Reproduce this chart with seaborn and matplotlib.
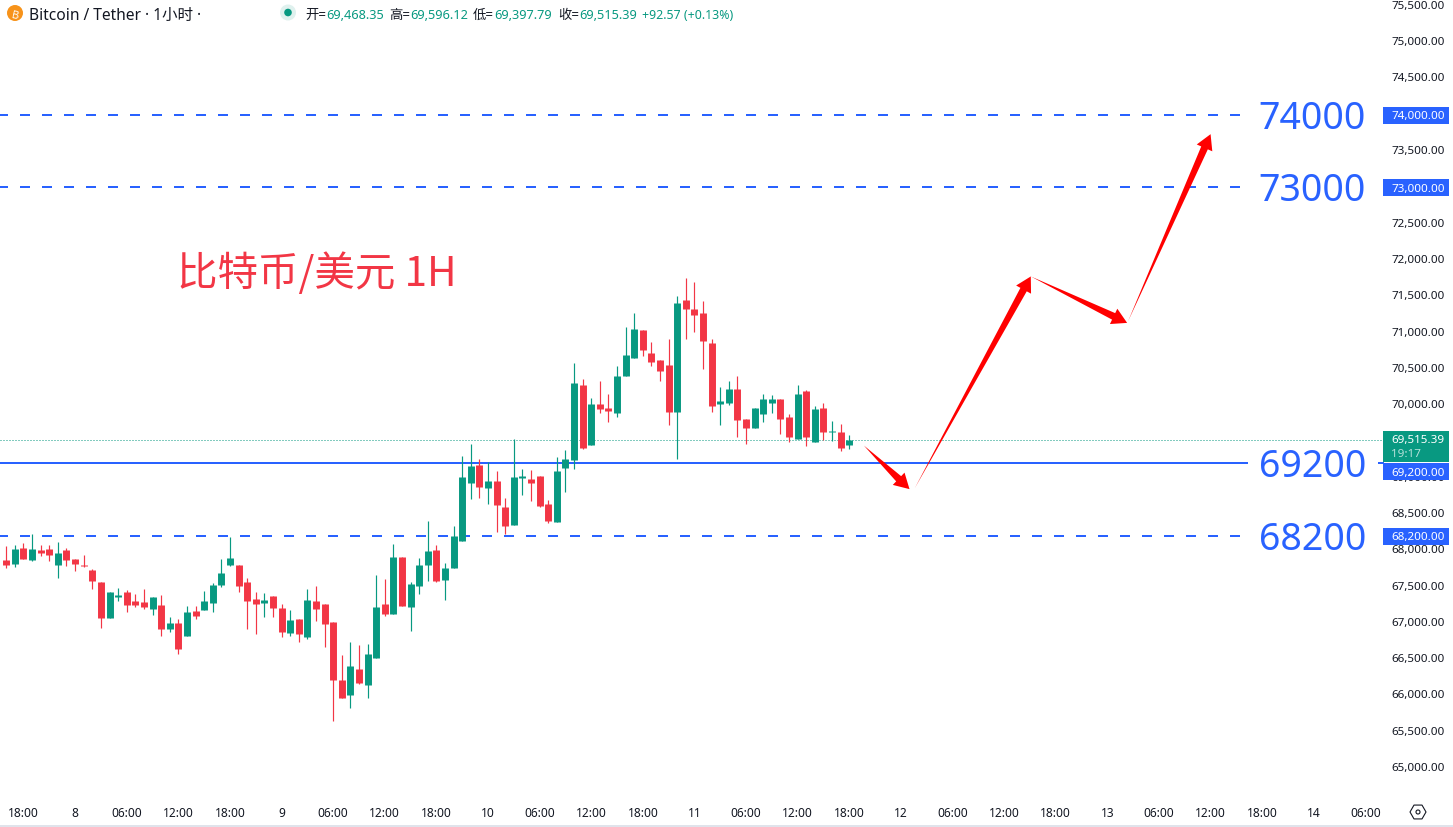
import numpy as np
import pandas as pd
import matplotlib
matplotlib.use('Agg')
import matplotlib.pyplot as plt
from matplotlib.patches import Circle, Polygon, Rectangle, RegularPolygon
from matplotlib.transforms import ScaledTranslation
import seaborn as sns

# Hourly candles
opens = [67700, 67865, 67810, 68030, 67865, 68003, 68017, 67796, 68003, 67879,
         67796, 67727, 67562, 67067, 67356, 67425, 67301, 67287, 67191, 67246,
         66915, 66998, 66819, 67163, 67177, 67273, 67521, 67796, 67796, 67562,
         67328, 67273, 67369, 67204, 66860, 67053, 66805, 67300, 67259, 67011,
         66213, 66007, 66365, 66144, 66516, 67259, 67122, 67906, 67218, 67507,
         67796, 68002, 67590, 67755, 68127, 68925, 69173, 68857, 68953, 68595,
         68347, 68994, 68980, 69022, 68636, 68389, 69132, 69242, 70274, 69448,
         70013, 69958, 69888, 70397, 70645, 71030, 70714, 70617, 70548, 69901,
         71443, 71319, 71264, 70851, 70012, 70026, 70218, 69806, 69682, 69874,
         70026, 70081, 69833, 69530, 70191, 69489, 69957, 69627, 69627, 69448]
highs = [67910, 68060, 68072, 68099, 68223, 68072, 68072, 68113, 68030, 67879,
         67934, 67741, 67562, 67425, 67480, 67452, 67397, 67466, 67356, 67383,
         67081, 67053, 67232, 67232, 67438, 67549, 67879, 68181, 67796, 67617,
         67424, 67411, 67369, 67259, 67177, 67053, 67466, 67507, 67259, 67011,
         66557, 66736, 66695, 66709, 67658, 67603, 68085, 67906, 67562, 67892,
         68402, 68071, 67824, 68333, 69297, 69462, 69256, 69214, 69091, 68719,
         69531, 69118, 69104, 69022, 68691, 69283, 69380, 70577, 70357, 70095,
         70329, 70150, 70536, 71071, 71264, 71030, 70865, 70617, 70906, 71498,
         71746, 71691, 71429, 70906, 70246, 70329, 70397, 69806, 69957, 70150,
         70136, 70081, 69874, 70274, 70205, 69984, 70026, 69778, 69737, 69585]
lows = [67670, 67755, 67769, 67879, 67851, 67920, 67851, 67617, 67783, 67714,
        67769, 67466, 66929, 67067, 67301, 67149, 67218, 67191, 67108, 66819,
        66874, 66571, 66819, 67053, 67177, 67149, 67494, 67782, 67424, 66915,
        66846, 67080, 67080, 66805, 66819, 66736, 66777, 67025, 66667, 65649,
        65965, 65828, 66158, 65965, 66516, 67094, 67122, 67232, 66888, 67397,
        67576, 67562, 67314, 67755, 68127, 68705, 68719, 68636, 68251, 68223,
        68347, 68760, 68678, 68595, 68375, 68389, 68801, 69118, 69393, 69448,
        69889, 69765, 69833, 70397, 70645, 70672, 70535, 70328, 69723, 69255,
        70906, 71003, 70493, 69901, 69723, 69998, 69558, 69461, 69682, 69764,
        69888, 69599, 69489, 69530, 69434, 69489, 69517, 69503, 69365, 69393]
closes = [67880, 67796, 68017, 67879, 68017, 67962, 67934, 67962, 67865, 67810,
          67783, 67576, 67067, 67425, 67383, 67246, 67246, 67218, 67356, 66915,
          66998, 66640, 67149, 67094, 67301, 67521, 67686, 67892, 67507, 67300,
          67259, 67314, 67204, 66874, 67039, 66846, 67314, 67190, 66984, 66213,
          65965, 66406, 66172, 66571, 67218, 67122, 67906, 67232, 67534, 67796,
          67989, 67576, 67755, 68195, 69008, 69159, 68870, 68953, 68623, 68333,
          69008, 69022, 68925, 68609, 68402, 69091, 69256, 70302, 69407, 70013,
          69944, 69916, 70398, 70686, 71044, 70755, 70590, 70466, 69901, 71402,
          71319, 71237, 70879, 69984, 70053, 70218, 69792, 69682, 69957, 70081,
          70081, 69806, 69558, 70150, 69558, 69943, 69627, 69640, 69406, 69517]

# Time axis labels, one every 6 candles starting at candle 3
time_labels = ['18:00', '8', '06:00', '12:00', '18:00', '9', '06:00', '12:00', '18:00',
               '10', '06:00', '12:00', '18:00', '11', '06:00', '12:00', '18:00',
               '12', '06:00', '12:00', '18:00', '13', '06:00', '12:00', '18:00',
               '14', '06:00']
level_dashed = [74000, 73000, 68200]
level_solid = 69200
last_price = 69515.39
price_ticks = list(range(65000, 76000, 500))

# Forecast path drawn on the chart: (start hour, start price, end hour, end price)
forecast_arrows = [(100.7, 69440, 106.0, 68840),
                   (106.6, 68850, 120.1, 71770),
                   (120.1, 71770, 131.3, 71130),
                   (131.4, 71150, 141.0, 73730)]

RED = '#f23645'
GREEN = '#089981'
BLUE = '#2962ff'
INK = '#131722'

sns.set_theme(style='white')
plt.rcParams['font.family'] = ['Noto Sans', 'Noto Sans CJK SC', 'DejaVu Sans']

W, H = 1453, 828
fig = plt.figure(figsize=(W / 100, H / 100), dpi=100, facecolor='white')
ax = fig.add_axes([0, (H - 795) / H, 1384 / W, 795 / H])

df = pd.DataFrame({'hour': np.arange(len(opens)), 'open': opens, 'high': highs,
                   'low': lows, 'close': closes})
df['side'] = np.where(df['close'] >= df['open'], 'up', 'down')
palette = {'up': GREEN, 'down': RED}

wicks = df.melt(id_vars=['hour', 'side'], value_vars=['low', 'high'], value_name='price')
bodies = df.melt(id_vars=['hour', 'side'], value_vars=['open', 'close'], value_name='price')

sns.lineplot(data=wicks, x='hour', y='price', units='hour', hue='side', palette=palette,
             estimator=None, sort=False, legend=False, linewidth=0.85,
             solid_capstyle='butt', ax=ax)
sns.lineplot(data=bodies, x='hour', y='price', units='hour', hue='side', palette=palette,
             estimator=None, sort=False, legend=False, linewidth=5.0,
             solid_capstyle='butt', ax=ax)

for level in level_dashed:
    ax.axhline(level, color=BLUE, linewidth=1.44, linestyle=(1, (5, 6)), zorder=1)
ax.axhline(level_solid, color=BLUE, linewidth=1.44, zorder=1)
ax.axhline(last_price, color=GREEN, linewidth=0.72, linestyle=(0, (1, 2)), zorder=1)

ax.set_xlim(0.27, 161.16)
ax.set_ylim(64640, 75592)
ax.set_xlabel('')
ax.set_ylabel('')
ax.set_xticks(np.arange(len(time_labels)) * 6 + 3)
ax.set_xticklabels(time_labels)
ax.set_yticks(price_ticks)
ax.set_yticklabels([f'{p:,.2f}' for p in price_ticks])
ax.yaxis.tick_right()
ax.tick_params(axis='x', length=0, pad=8.5, labelsize=8.6, labelcolor=INK)
ax.tick_params(axis='y', length=0, pad=5.5, labelsize=8.4, labelcolor=INK)
up_a_bit = ScaledTranslation(0, 1.3 / 72, fig.dpi_scale_trans)
for lab in ax.get_yticklabels():
    lab.set_transform(lab.get_transform() + up_a_bit)
sns.despine(ax=ax, left=True, right=True, top=True, bottom=True)

# Everything below sits on an overlay that works in image pixels
over = fig.add_axes([0, 0, 1, 1], facecolor='none')
over.set_xlim(0, W)
over.set_ylim(H, 0)
over.axis('off')


def to_px(hour, price):
    px, py = ax.transData.transform((hour, price))
    return px, H - py


def big_level(price, tag_shift=0):
    _, py = to_px(0, price)
    over.add_patch(Rectangle((1248, py - 16), 130, 34, color='white', lw=0, zorder=2))
    over.text(1366, py - 1.5, str(price), color=BLUE, fontsize=27, ha='right', va='center_baseline',
              zorder=3)
    over.add_patch(Rectangle((1383, py - 8 + tag_shift), 66, 17, color=BLUE, lw=0, zorder=4))
    over.text(1391, py + tag_shift - 0.5, f'{price:,.2f}', color='white', fontsize=8.4,
              va='center_baseline', zorder=5)


for level in level_dashed:
    big_level(level)
big_level(level_solid, tag_shift=8.5)

# Last price tag, sits just above the solid level tag
over.add_patch(Rectangle((1383, 432), 66, 31, color=GREEN, lw=0, zorder=4))
over.text(1391, 439, f'{last_price:,.2f}', color='white', fontsize=8.4, va='center_baseline', zorder=5)
over.text(1391, 453, '19:17', color='white', alpha=0.7, fontsize=8.4, va='center_baseline', zorder=5)


def draw_arrow(x0, y0, x1, y1, shaft, head_len, head_half):
    start, tip = np.array([x0, y0]), np.array([x1, y1])
    along = (tip - start) / np.hypot(*(tip - start))
    side = np.array([-along[1], along[0]])
    neck = tip - along * head_len
    pts = [start, neck + side * shaft, neck + side * head_half, tip,
           neck - side * head_half, neck - side * shaft]
    over.add_patch(Polygon(pts, closed=True, color='#ff0000', lw=0, zorder=6))


for h0, p0, h1, p1 in forecast_arrows:
    draw_arrow(*to_px(h0, p0), *to_px(h1, p1), 3.6, 15, 8.5)

over.text(177, 269, '比特币/美元 1H', color=RED, fontsize=29.2, va='center_baseline',
          family=['Noto Sans CJK SC', 'DejaVu Sans'])

# Header
over.add_patch(Circle((15, 14), 8, color='#f7931a', lw=0))
over.text(15, 14, 'B', color='white', fontsize=8, fontweight='bold', rotation=-12,
          ha='center', va='center_baseline')
over.text(29, 14, 'Bitcoin / Tether · 1小时 ·', color=INK, fontsize=11.2, va='center_baseline')
over.add_patch(Circle((288, 13.5), 8, color='#dff1ee', lw=0))
over.add_patch(Circle((288, 13.5), 3.8, color=GREEN, lw=0))

ohlc_heads = [(305, '开', '69,468.35'), (389, '高', '69,596.12'),
              (473, '低', '69,397.79'), (558, '收', '69,515.39')]
for x, head, val in ohlc_heads:
    over.text(x, 14, head + '=', color=INK, fontsize=9.6, va='center_baseline')
    over.text(x + 21, 14, val, color=GREEN, fontsize=9.2, va='center_baseline')
over.text(642, 14, '+92.57 (+0.13%)', color=GREEN, fontsize=8.9, va='center_baseline')

# Settings button and the bottom edge
over.add_patch(RegularPolygon((1418, 813), 6, radius=8, orientation=np.pi / 6,
                              fill=False, edgecolor=INK, lw=0.8))
over.add_patch(Circle((1418, 813), 2, fill=False, edgecolor=INK, lw=0.8))
over.add_patch(Rectangle((0, 826.5), W, 1.5, color='#e0e3eb', lw=0))

fig.savefig('out.png', dpi=100)
